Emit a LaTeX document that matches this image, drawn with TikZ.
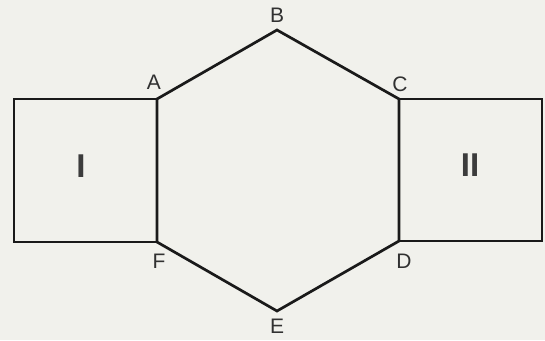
\documentclass[tikz,border=0pt]{standalone}
\usepackage{fontspec}
\setmainfont{Liberation Sans}
\definecolor{paper}{HTML}{F1F1EC}
\definecolor{ink}{HTML}{1A1A1A}
\tikzset{
  edge/.style={draw=ink, line width=2.7pt, line join=miter},
  lbl/.style={text=ink!90, font=\fontsize{21}{21}\selectfont, inner sep=0pt},
  roman/.style={text=ink!85, font=\fontsize{33}{33}\selectfont\bfseries, inner sep=0pt}
}
\begin{document}
\begin{tikzpicture}[x=1pt,y=-1pt]
\fill[paper] (0,0) rectangle (545,340);
\useasboundingbox (0,0) rectangle (545,340);
% hexagon vertices
\coordinate (A) at (157,99);
\coordinate (B) at (277,30);
\coordinate (C) at (399,99);
\coordinate (D) at (399,241);
\coordinate (E) at (277,311);
\coordinate (F) at (157,242);
% rectangle corners
\coordinate (L1) at (14,99);
\coordinate (L2) at (14,242);
\coordinate (R1) at (542,99);
\coordinate (R2) at (542,241);
\draw[edge] (A) -- (B) -- (C) -- (D) -- (E) -- (F) -- cycle;
\draw[edge] (A) -- (L1) -- (L2) -- (F);
\draw[edge] (C) -- (R1) -- (R2) -- (D);
% labels
\node[lbl] (lA) at (154,82) {A};
\node[lbl] (lB) at (277,15) {B};
\node[lbl] (lC) at (400,84) {C};
\node[lbl] (lD) at (404,261) {D};
\node[lbl] (lE) at (277,326) {E};
\node[lbl] (lF) at (159,261) {F};
\node[roman] (one) at (81,166) {I};
\node[roman] (two) at (470,165) {II};
\end{tikzpicture}
\end{document}
